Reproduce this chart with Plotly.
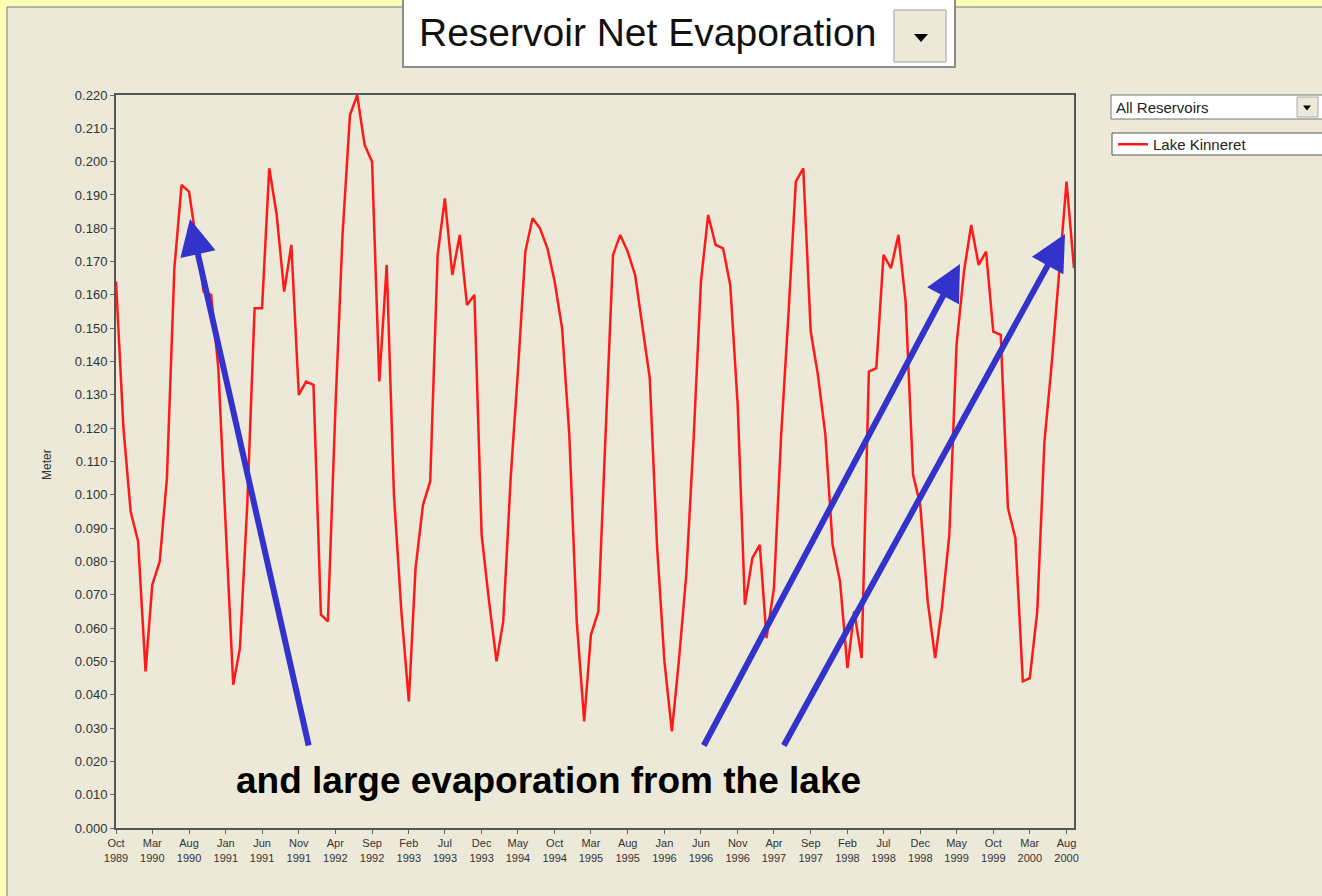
import pandas as pd
import plotly.graph_objects as go

# monthly net evaporation, Lake Kinneret, Oct 1989 - Sep 2000 (meter)
months = pd.date_range('1989-10-01', periods=132, freq='MS')
evap = [
    0.164, 0.120, 0.095, 0.086, 0.047, 0.073, 0.080, 0.105, 0.168, 0.193, 0.191, 0.175,
    0.161, 0.160, 0.138, 0.090, 0.043, 0.054, 0.098, 0.156, 0.156, 0.198, 0.184, 0.161,
    0.175, 0.130, 0.134, 0.133, 0.064, 0.062, 0.125, 0.178, 0.214, 0.220, 0.205, 0.200,
    0.134, 0.169, 0.100, 0.065, 0.038, 0.078, 0.097, 0.104, 0.172, 0.189, 0.166, 0.178,
    0.157, 0.160, 0.088, 0.068, 0.050, 0.062, 0.105, 0.137, 0.173, 0.183, 0.180, 0.174,
    0.164, 0.150, 0.118, 0.062, 0.032, 0.058, 0.065, 0.118, 0.172, 0.178, 0.173, 0.166,
    0.150, 0.135, 0.085, 0.050, 0.029, 0.050, 0.076, 0.116, 0.164, 0.184, 0.175, 0.174,
    0.163, 0.127, 0.067, 0.081, 0.085, 0.057, 0.072, 0.118, 0.155, 0.194, 0.198, 0.149,
    0.136, 0.118, 0.085, 0.074, 0.048, 0.065, 0.051, 0.137, 0.138, 0.172, 0.168, 0.178,
    0.158, 0.106, 0.097, 0.068, 0.051, 0.066, 0.088, 0.145, 0.167, 0.181, 0.169, 0.173,
    0.149, 0.148, 0.096, 0.087, 0.044, 0.045, 0.065, 0.116, 0.140, 0.168, 0.194, 0.168,
]
tick_text = [
    'Oct<br>1989', 'Mar<br>1990', 'Aug<br>1990', 'Jan<br>1991', 'Jun<br>1991', 'Nov<br>1991',
    'Apr<br>1992', 'Sep<br>1992', 'Feb<br>1993', 'Jul<br>1993', 'Dec<br>1993', 'May<br>1994',
    'Oct<br>1994', 'Mar<br>1995', 'Aug<br>1995', 'Jan<br>1996', 'Jun<br>1996', 'Nov<br>1996',
    'Apr<br>1997', 'Sep<br>1997', 'Feb<br>1998', 'Jul<br>1998', 'Dec<br>1998', 'May<br>1999',
    'Oct<br>1999', 'Mar<br>2000', 'Aug<br>2000',
]
tick_vals = list(months[::5])

BEIGE = '#ECE9D8'
YELLOW = '#FFFFB4'
BLUE = '#3333CC'
FONT = 'Arial, Liberation Sans'

# plot area in page pixels
L, R, T, B = 116, 1074, 95, 828


def px(x):
    return (x - L) / (R - L)


def py(y):
    return (B - y) / (B - T)


def box(x0, y0, x1, y1, fill, line='#7F7F7F', width=1, layer='above'):
    return dict(type='rect', xref='paper', yref='paper', layer=layer,
                x0=px(x0), x1=px(x1), y0=py(y1), y1=py(y0),
                fillcolor=fill, line=dict(color=line, width=width))


def down_arrow(cx, cy, w, h):
    path = 'M {} {} L {} {} L {} {} Z'.format(
        px(cx - w / 2), py(cy - h / 2), px(cx + w / 2), py(cy - h / 2), px(cx), py(cy + h / 2))
    return dict(type='path', xref='paper', yref='paper', path=path,
                fillcolor='black', line=dict(color='black', width=0))


def arrow(tip, tail):
    return dict(xref='paper', yref='paper', x=px(tip[0]), y=py(tip[1]),
                ax=tail[0] - tip[0], ay=tail[1] - tip[1], text='',
                showarrow=True, arrowhead=2, arrowsize=1.2, arrowwidth=6,
                arrowcolor=BLUE)


fig = go.Figure()
fig.add_trace(go.Scatter(x=months, y=evap, mode='lines', name='Lake Kinneret',
                         line=dict(color='#FF1A1A', width=2.5)))

shapes = [
    box(7, 7, 1340, 910, BEIGE, line='#6A7A8C', width=1, layer='below'),
    # title combo box
    box(403, -3, 955, 67, 'white', line='#8C8C8C', width=2),
    box(894, 10, 946, 62, BEIGE, line='#9C9C9C', width=1),
    down_arrow(921, 38, 14, 8),
    # reservoir selector
    box(1111, 95, 1340, 119, 'white', line='#777777', width=1),
    box(1297, 97, 1318, 117, BEIGE, line='#AAAAAA', width=1),
    down_arrow(1307, 108, 8, 5),
    # legend box
    box(1112, 133, 1340, 155, 'white', line='#555555', width=1),
]

annotations = [
    dict(xref='paper', yref='paper', x=px(417), y=py(33), xanchor='left', yanchor='middle',
         text='Reservoir Net Evaporation', showarrow=False,
         font=dict(family=FONT, size=39, color='#111111')),
    dict(xref='paper', yref='paper', x=px(1114), y=py(107), xanchor='left', yanchor='middle',
         text='All Reservoirs', showarrow=False,
         font=dict(family=FONT, size=15, color='#222222')),
    dict(xref='paper', yref='paper', x=px(47), y=py(465), xanchor='center', yanchor='middle',
         textangle=-90, text='Meter', showarrow=False,
         font=dict(family=FONT, size=12, color='#333333')),
    dict(xref='paper', yref='paper', x=px(548), y=py(780), xanchor='center', yanchor='middle',
         text='<b>and large evaporation from the lake</b>', showarrow=False,
         font=dict(family=FONT, size=37, color='black')),
    arrow((190, 219), (309, 747)),
    arrow((960, 264), (703, 747)),
    arrow((1065, 234), (783, 747)),
]

fig.update_layout(
    width=1322, height=896,
    margin=dict(l=L, r=1322 - R, t=T, b=896 - B, pad=0),
    paper_bgcolor=YELLOW,
    plot_bgcolor=BEIGE,
    shapes=shapes,
    annotations=annotations,
    showlegend=True,
    legend=dict(x=px(1113), y=py(128), xanchor='left', yanchor='top',
                bgcolor='rgba(0,0,0,0)', borderwidth=0,
                font=dict(family=FONT, size=15, color='#222222')),
    xaxis=dict(range=[months[0], months[-1]], tickvals=tick_vals, ticktext=tick_text,
               ticks='outside', ticklen=4, tickcolor='#666666',
               tickfont=dict(family=FONT, size=11, color='#333333'),
               showline=True, linecolor='#555555', linewidth=2, mirror=True,
               showgrid=False, zeroline=False, automargin=False),
    yaxis=dict(range=[0, 0.22], dtick=0.01, tickformat='.3f',
               ticks='outside', ticklen=4, tickcolor='#666666',
               tickfont=dict(family=FONT, size=13, color='#333333'),
               showline=True, linecolor='#555555', linewidth=2, mirror=True,
               showgrid=False, zeroline=False, automargin=False),
)

fig.write_html('out.html', config={'displayModeBar': False},
               post_script="document.body.style.margin='0px';")
